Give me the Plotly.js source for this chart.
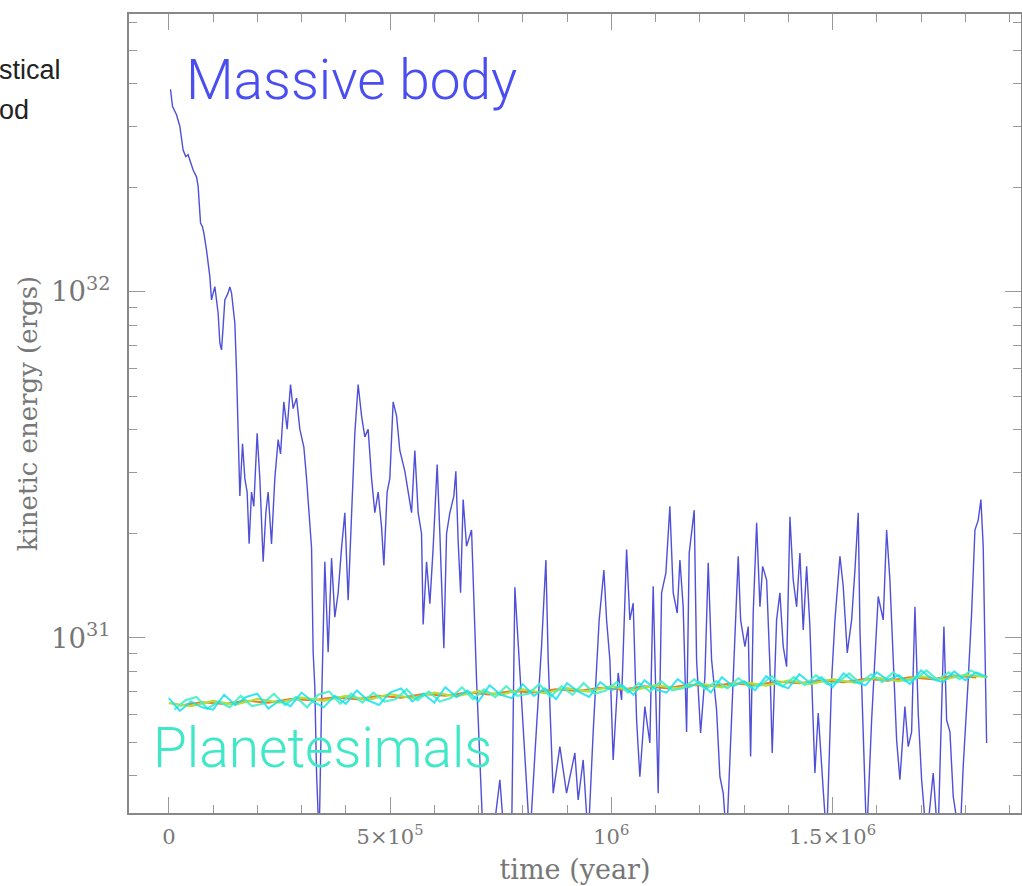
<!DOCTYPE html>
<html>
<head>
<meta charset="utf-8">
<script src="https://cdn.plot.ly/plotly-3.0.1.min.js"></script>
<style>html,body{margin:0;padding:0;background:#fff;}#chart{width:1022px;height:886px;}</style>
</head>
<body>
<div id="chart"></div>
<script>
// ---- Massive body: time (year) and kinetic energy (ergs) ----
const massiveTime = [
3800,8400,17400,24900,32300,38400,43600,47500,54900,62600,66200,71700,76200,79100,85200,92700,96500,104000,111400,115300,
119100,122700,126600,134000,137900,141700,149200,153000,156600,160500,166600,171800,177000,181500,186900,192100,199600,205700,213200,219300,
224500,232100,239600,247100,252500,259900,267400,275100,281000,288700,296100,305200,311300,317100,322600,326200,330000,333900,339700,345200,
352600,360100,367800,375200,382700,390400,397800,405300,413000,420400,427900,435600,443000,450500,458200,465600,473100,480800,486000,493400,
499500,507000,514700,522100,533500,540900,548600,556000,563500,571200,574800,582500,590000,597400,606500,612600,621600,627700,635200,644200,
648700,653900,659400,665200,672900,684200,687800,695500,703000,710500,730000,748200,759500,774600,782100,793400,804700,816000,831100,842400,
852200,857400,868700,883800,898900,917700,925200,936500,947800,959100,972600,983300,989400,996800,1004300,1015600,1023300,1034600,1042000,1049500,
1057200,1064600,1075900,1087200,1094700,1106000,1113700,1123400,1132400,1140000,1149000,1155100,1162500,1170200,1176100,1187400,1192800,1201900,1211600,1219100,
1226700,1238000,1245500,1253000,1260600,1271900,1279400,1286900,1292300,1302000,1309500,1314900,1320800,1328500,1336000,1342100,1351100,1358600,1363700,1373600,
1381100,1388600,1396300,1403800,1411200,1418900,1426300,1433800,1441500,1448900,1460200,1467700,1479000,1486700,1498000,1505500,1516800,1524200,1533300,1543200,
1550700,1558100,1562000,1569400,1577100,1588400,1595900,1603300,1614600,1622300,1629700,1637200,1644900,1652300,1663600,1671100,1678800,1686300,1693700,1701400,
1712700,1727600,1738300,1751800,1757900,1765400,1772800,1788000,1795400,1806700,1814400,1821900,1829300,1835400,1840600,1844500,1848300
];
const massiveEnergy = [
3.85e32,3.43e32,3.25e32,3.01e32,2.57e32,2.46e32,2.49e32,2.41e32,2.25e32,2.15e32,2.02e32,1.58e32,1.54e32,1.48e32,1.32e32,1.107e32,9.48e31,1.036e32,8.69e31,7.12e31,
6.80e31,7.92e31,9.48e31,9.93e31,1.034e32,9.93e31,8.13e31,5.92e31,3.81e31,2.57e31,3.64e31,2.89e31,2.64e31,1.87e31,2.64e31,2.40e31,3.90e31,2.89e31,1.66e31,2.30e31,
2.64e31,1.87e31,2.89e31,3.74e31,3.40e31,4.81e31,4.01e31,5.40e31,4.60e31,4.93e31,4.01e31,3.56e31,2.89e31,2.19e31,1.82e31,9.09e30,7.21e30,4.05e30,2.6e30,6.42e30,
1.66e31,9.09e30,1.70e31,1.148e31,1.35e31,1.82e31,2.30e31,1.285e31,2.19e31,3.90e31,5.40e31,4.38e31,3.81e31,4.01e31,2.89e31,2.30e31,2.64e31,2.09e31,1.62e31,2.64e31,
2.89e31,4.81e31,4.38e31,3.48e31,3.03e31,2.64e31,2.30e31,3.48e31,2.30e31,2.00e31,1.093e31,1.66e31,1.256e31,1.82e31,3.17e31,2.00e31,9.33e30,2.00e31,2.30e31,2.57e31,
3.03e31,1.905e31,1.35e31,2.51e31,1.84e31,2.05e31,1.41e31,7.56e30,4.44e30,2.6e30,2.5e30,3.89e30,2.5e30,2.6e30,1.4e31,7.73e30,4.44e30,2.6e30,5.54e30,9.44e30,
1.68e31,8.64e30,3.56e30,4.85e30,3.56e30,4.65e30,3.40e30,4.44e30,2.6e30,5.35e30,1.127e31,1.57e31,1.127e31,8.64e30,4.44e30,7.92e30,6.62e30,1.80e31,1.127e31,1.26e31,
5.79e30,3.97e30,6.33e30,4.97e30,1.41e31,3.56e30,1.35e31,1.54e31,2.40e31,1.35e31,1.18e31,1.68e31,1.23e31,5.35e30,1.76e31,2.34e31,8.64e30,5.31e30,7.73e30,1.65e31,
8.64e30,6.19e30,3.97e30,3.56e30,2.6e30,6.07e30,1.105e31,1.72e31,1.127e31,9.44e30,1.078e31,4.54e30,1.18e31,2.15e31,1.23e31,1.61e31,1.47e31,8.26e30,4.65e30,1.127e31,
1.35e31,9.44e30,8.26e30,2.24e31,1.47e31,1.23e31,1.76e31,1.055e31,1.61e31,1.078e31,4.07e30,6.07e30,3.64e30,2.6e30,7.56e30,1.127e31,1.72e31,1.41e31,9.05e30,1.127e31,
1.57e31,2.30e31,1.055e31,5.42e30,2.6e30,5.79e30,8.64e30,1.317e31,1.127e31,2.05e31,1.47e31,8.26e30,5.07e30,3.89e30,6.33e30,4.85e30,5.35e30,1.23e31,6.07e30,3.89e30,
2.6e30,4.07e30,2.6e30,1.078e31,5.79e30,5.35e30,3.48e30,2.6e30,4.25e30,7.56e30,1.18e31,2.05e31,2.19e31,2.51e31,1.84e31,9.44e30,4.97e30
];

// ---- Planetesimals: several runs, kinetic energy (ergs) ----
const planTimeA = [
0,25000,50000,75000,100000,125000,150000,175000,200000,225000,250000,275000,300000,325000,350000,375000,400000,425000,450000,475000,
500000,525000,550000,575000,600000,625000,650000,675000,700000,725000,750000,775000,800000,825000,850000,875000,900000,925000,950000,975000,
1000000,1025000,1050000,1075000,1100000,1125000,1150000,1175000,1200000,1225000,1250000,1275000,1300000,1325000,1350000,1375000,1400000,1425000,1450000,1475000,
1500000,1525000,1550000,1575000,1600000,1625000,1650000,1675000,1700000,1725000,1750000,1775000,1800000,1825000,1850000
];
const planEnergyA = [
6.70e30,6.15e30,6.55e30,6.30e30,6.20e30,6.85e30,6.40e30,6.75e30,6.90e30,6.25e30,6.60e30,6.35e30,6.95e30,6.55e30,6.30e30,6.80e30,6.45e30,7.05e30,6.60e30,6.40e30,
6.95e30,7.15e30,6.55e30,6.90e30,6.50e30,7.20e30,6.75e30,7.05e30,6.55e30,7.30e30,6.85e30,6.70e30,7.35e30,6.80e30,7.15e30,6.65e30,7.40e30,7.00e30,6.75e30,7.45e30,
7.05e30,7.30e30,6.85e30,7.55e30,7.10e30,6.95e30,7.60e30,7.20e30,7.45e30,6.95e30,7.70e30,7.25e30,7.50e30,7.05e30,7.75e30,7.35e30,7.15e30,7.85e30,7.40e30,7.70e30,
7.20e30,7.90e30,7.45e30,7.30e30,7.95e30,7.55e30,7.80e30,7.35e30,8.05e30,7.60e30,7.45e30,8.00e30,7.55e30,7.95e30,7.70e30
];
const planTimeB = [
12500,37500,62500,87500,112500,137500,162500,187500,212500,237500,262500,287500,312500,337500,362500,387500,412500,437500,462500,487500,
512500,537500,562500,587500,612500,637500,662500,687500,712500,737500,762500,787500,812500,837500,862500,887500,912500,937500,962500,987500,
1012500,1037500,1062500,1087500,1112500,1137500,1162500,1187500,1212500,1237500,1262500,1287500,1312500,1337500,1362500,1387500,1412500,1437500,1462500,1487500,
1512500,1537500,1562500,1587500,1612500,1637500,1662500,1687500,1712500,1737500,1762500,1787500,1812500,1837500
];
const planEnergyB = [
6.20e30,6.60e30,6.75e30,6.25e30,6.55e30,6.30e30,6.80e30,6.35e30,6.45e30,6.90e30,6.40e30,6.75e30,6.30e30,6.85e30,7.00e30,6.45e30,6.90e30,6.50e30,6.95e30,6.55e30,
6.65e30,7.10e30,6.60e30,7.00e30,6.55e30,6.70e30,7.20e30,6.65e30,7.10e30,6.75e30,7.25e30,6.80e30,6.90e30,7.35e30,6.75e30,7.25e30,6.85e30,7.40e30,6.90e30,7.05e30,
7.45e30,6.95e30,7.40e30,7.00e30,7.50e30,7.05e30,7.15e30,7.60e30,7.10e30,7.50e30,7.15e30,7.65e30,7.20e30,7.30e30,7.75e30,7.25e30,7.70e30,7.30e30,7.80e30,7.35e30,
7.45e30,7.90e30,7.40e30,7.85e30,7.45e30,7.95e30,7.50e30,7.60e30,8.05e30,7.55e30,7.95e30,7.60e30,8.05e30,7.75e30
];
const planTimeC = [
0,50000,100000,150000,200000,250000,300000,350000,400000,450000,500000,550000,600000,650000,700000,750000,800000,850000,900000,950000,
1000000,1050000,1100000,1150000,1200000,1250000,1300000,1350000,1400000,1450000,1500000,1550000,1600000,1650000,1700000,1750000,1800000,1850000
];
const planEnergyC = [
6.48e30,6.35e30,6.58e30,6.42e30,6.66e30,6.50e30,6.72e30,6.58e30,6.80e30,6.62e30,6.88e30,6.70e30,6.95e30,6.78e30,7.02e30,6.85e30,7.10e30,6.92e30,7.16e30,7.00e30,
7.25e30,7.05e30,7.30e30,7.15e30,7.38e30,7.20e30,7.45e30,7.28e30,7.52e30,7.35e30,7.60e30,7.42e30,7.68e30,7.50e30,7.74e30,7.58e30,7.82e30,7.70e30
];
const planTimeD = [
25000,75000,125000,175000,225000,275000,325000,375000,425000,475000,525000,575000,625000,675000,725000,775000,825000,875000,925000,975000,
1025000,1075000,1125000,1175000,1225000,1275000,1325000,1375000,1425000,1475000,1525000,1575000,1625000,1675000,1725000,1775000,1825000
];
const planEnergyD = [
6.38e30,6.52e30,6.44e30,6.58e30,6.50e30,6.66e30,6.60e30,6.74e30,6.65e30,6.80e30,6.72e30,6.88e30,6.80e30,6.95e30,6.86e30,7.02e30,6.95e30,7.10e30,7.02e30,7.18e30,
7.10e30,7.25e30,7.15e30,7.32e30,7.25e30,7.40e30,7.30e30,7.48e30,7.40e30,7.55e30,7.45e30,7.62e30,7.52e30,7.70e30,7.60e30,7.78e30,7.68e30
];

// ---- Tick labels and texts ----
const xTickVals = [0, 500000, 1000000, 1500000];
const xTickText = ['0', '5×10<sup>5</sup>', '10<sup>6</sup>', '1.5×10<sup>6</sup>'];
const xTitle = 'time (year)';
const yTitle = 'kinetic energy (ergs)';
const labelMassive = 'Massive body';
const labelPlanet = 'Planetesimals';
const sideText1 = 'stical';
const sideText2 = 'od';

const serif = 'DejaVu Serif, Liberation Serif, serif';
const axisGrey = '#777777';

const traces = [
  {x: massiveTime, y: massiveEnergy, mode: 'lines', hoverinfo: 'skip',
   line: {color: 'rgb(60,60,212)', width: 1.4}, opacity: 0.9},
  {x: planTimeD, y: planEnergyD, mode: 'lines', hoverinfo: 'skip',
   line: {color: 'rgb(240,120,40)', width: 2}},
  {x: planTimeC, y: planEnergyC, mode: 'lines', hoverinfo: 'skip',
   line: {color: 'rgb(175,225,60)', width: 2.2}},
  {x: planTimeB, y: planEnergyB, mode: 'lines', hoverinfo: 'skip',
   line: {color: 'rgb(70,240,200)', width: 2.2}, opacity: 0.9},
  {x: planTimeA, y: planEnergyA, mode: 'lines', hoverinfo: 'skip',
   line: {color: 'rgb(20,225,240)', width: 2.0}, opacity: 0.85}
];

const layout = {
  width: 1022, height: 886,
  margin: {l: 129, r: 1, t: 14, b: 73},
  paper_bgcolor: '#ffffff', plot_bgcolor: '#ffffff',
  showlegend: false,
  xaxis: {
    range: [-90000, 1926000],
    tickmode: 'array', tickvals: xTickVals, ticktext: xTickText,
    ticks: 'inside', ticklen: 16, tickwidth: 1, tickcolor: '#999999',
    minor: {tickmode: 'linear', tick0: 0, dtick: 100000, ticks: 'inside', ticklen: 8, tickcolor: '#999999', showgrid: false},
    showline: true, linecolor: '#888888', linewidth: 2, mirror: 'ticks',
    showgrid: false, zeroline: false,
    ticklabelstandoff: 4,
    tickfont: {family: serif, size: 21, color: axisGrey},
    title: {text: xTitle, font: {family: serif, size: 27, color: axisGrey}, standoff: 12},
    automargin: false
  },
  yaxis: {
    type: 'log',
    range: [30.494, 32.803],
    dtick: 1, exponentformat: 'power',
    ticks: 'inside', ticklen: 16, tickwidth: 1, tickcolor: '#999999',
    minor: {dtick: 'D1', ticks: 'inside', ticklen: 8, tickcolor: '#999999', showgrid: false},
    showline: true, linecolor: '#888888', linewidth: 2, mirror: 'ticks',
    showgrid: false, zeroline: false,
    ticklabelstandoff: 12,
    tickfont: {family: serif, size: 22, color: axisGrey},
    title: {text: yTitle, font: {family: serif, size: 26, color: axisGrey}, standoff: 6},
    automargin: false
  },
  annotations: [
    {text: labelMassive, xref: 'paper', yref: 'paper', x: 0.062, y: 0.9174, xanchor: 'left', yanchor: 'middle',
     showarrow: false, font: {family: 'Roboto, Liberation Sans, sans-serif', size: 55, color: 'rgb(74,78,240)', weight: 300}},
    {text: labelPlanet, xref: 'paper', yref: 'paper', x: 0.025, y: 0.0814, xanchor: 'left', yanchor: 'middle',
     showarrow: false, font: {family: 'Roboto, Liberation Sans, sans-serif', size: 55, color: 'rgb(64,232,200)', weight: 300}},
    {text: sideText1, xref: 'paper', yref: 'paper', x: -0.1480, y: 0.930, xanchor: 'left', yanchor: 'middle',
     showarrow: false, font: {family: 'Liberation Sans, Arial, sans-serif', size: 27, color: '#222222'}},
    {text: sideText2, xref: 'paper', yref: 'paper', x: -0.1480, y: 0.880, xanchor: 'left', yanchor: 'middle',
     showarrow: false, font: {family: 'Liberation Sans, Arial, sans-serif', size: 27, color: '#222222'}}
  ]
};

Plotly.newPlot('chart', traces, layout, {staticPlot: true, displayModeBar: false});
</script>
</body>
</html>
